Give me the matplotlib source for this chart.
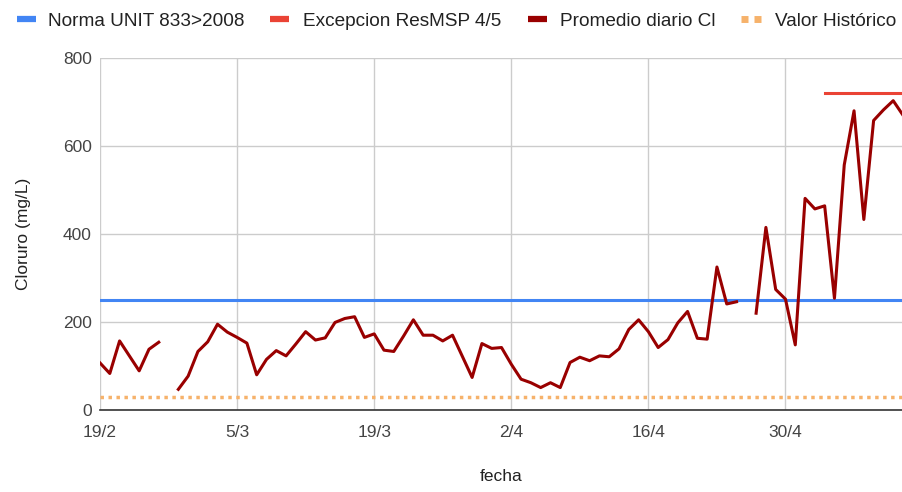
import numpy as np
import pandas as pd
import matplotlib
matplotlib.use('Agg')
import matplotlib.pyplot as plt
import matplotlib.dates as mdates
from matplotlib.lines import Line2D

plt.rcParams['font.family'] = ['Liberation Sans', 'DejaVu Sans']

# daily dates, 19/2 .. 12/5
fechas = pd.date_range("2021-02-19", periods=83, freq="D")

# Promedio diario Cl (mg/L), NaN = no data that day
promedio_cl = [107, 83, 157, 123, 89, 138, 154, np.nan, 47, 77,
               133, 155, 195, 177, 165, 152, 80, 115, 135, 123,
               150, 178, 159, 164, 199, 208, 212, 165, 173, 136,
               133, 168, 205, 170, 170, 157, 170, 122, 74, 151,
               140, 142, 104, 70, 62, 51, 62, 51, 108, 120,
               112, 123, 121, 139, 183, 205, 178, 142, 160, 198,
               224, 163, 161, 325, 241, 246, np.nan, 220, 415, 274,
               252, 148, 481, 457, 464, 254, 557, 680, 433, 658,
               682, 703, 670]

norma_unit = 250          # Norma UNIT 833>2008
excepcion_msp = 720       # Excepcion ResMSP 4/5, from 4/5 on
excepcion_desde = "2021-05-04"
valor_historico = 30

tick_fechas = pd.date_range("2021-02-19", periods=6, freq="14D")

c_norma = '#4285F4'
c_excep = '#EA4335'
c_prom = '#990000'
c_hist = '#F6B26B'

W, H = 903, 492
fig = plt.figure(figsize=(W / 100, H / 100), dpi=100)
ax = fig.add_axes([100 / W, 82 / H, 803 / W, 352 / H])

ax.plot(fechas, [norma_unit] * len(fechas), color=c_norma, lw=2.2, zorder=3)
exc_dates = fechas[fechas >= excepcion_desde]
ax.plot(exc_dates, [excepcion_msp] * len(exc_dates), color=c_excep, lw=2.2, zorder=3)
ax.plot(fechas, promedio_cl, color=c_prom, lw=2.2, zorder=4)
ax.plot(fechas, [valor_historico] * len(fechas), color=c_hist, lw=2.5,
        linestyle=(0, (1, 1.3)), dash_capstyle='butt', zorder=3)

ax.set_xlim(fechas[0], fechas[-1])
ax.set_ylim(0, 800)
ax.set_yticks([0, 200, 400, 600, 800])
ax.set_xticks(tick_fechas)
ax.xaxis.set_major_formatter(plt.FuncFormatter(
    lambda v, pos: f"{mdates.num2date(v).day}/{mdates.num2date(v).month}"))

ax.grid(True, color='#cccccc', lw=1)
ax.set_axisbelow(True)
for s in ['top', 'right', 'left']:
    ax.spines[s].set_visible(False)
ax.spines['bottom'].set_color('#333333')
ax.spines['bottom'].set_linewidth(1.2)
ax.tick_params(length=0, labelsize=12.5, colors='#444444', pad=6)
ax.tick_params(axis='x', pad=11)

ax.set_ylabel('Cloruro (mg/L)', fontsize=12.5, color='#222222', labelpad=23)
ax.set_xlabel('fecha', fontsize=12.5, color='#222222', labelpad=21)

# legend drawn by hand along the top (pixel positions of the reference)
labels = ['Norma UNIT 833>2008', 'Excepcion ResMSP 4/5',
          'Promedio diario Cl', 'Valor Histórico']
colores = [c_norma, c_excep, c_prom, c_hist]
handle_x = [17, 270, 528, 741]
text_x = [48, 303, 560, 775]
ly = 1 - 19 / H
for lab, col, hx, tx in zip(labels, colores, handle_x, text_x):
    if col == c_hist:
        for dx in (0, 13):
            fig.add_artist(Line2D([(hx + dx) / W, (hx + dx + 7) / W], [ly, ly],
                                  color=col, lw=5, solid_capstyle='butt'))
    else:
        fig.add_artist(Line2D([hx / W, (hx + 19) / W], [ly, ly],
                              color=col, lw=4.5, solid_capstyle='butt'))
    fig.text(tx / W, ly, lab, fontsize=13.7, color='#222222',
             va='center_baseline', ha='left')

plt.savefig('out.png', dpi=100)
